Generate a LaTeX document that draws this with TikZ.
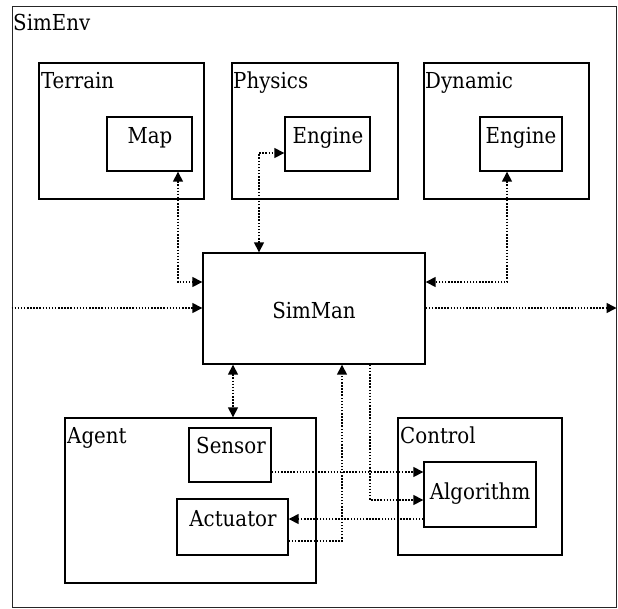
\documentclass[tikz,border=0pt]{standalone}
\usepackage{fontspec}
\setmainfont{DejaVu Serif Condensed}
\usetikzlibrary{arrows.meta,fit}
\begin{document}
\begin{tikzpicture}[x=1pt,y=-1pt,
  box/.style={draw=black,line width=1.4pt,inner sep=0pt},
  outerbox/.style={draw=black!85,line width=1pt,inner sep=0pt},
  txt/.style={inner sep=0pt,font=\fontsize{22}{26}\selectfont},
  conn/.style={line width=1.5pt,dash pattern=on 1.5pt off 1.6pt,
    >={Triangle[length=10pt,width=10pt]}}
]
\useasboundingbox (0,0) rectangle (618,608);
% boxes
\node[outerbox,fit={(12,6) (616,607)}] (SimEnv) {};
\node[box,fit={(39,63) (204,199)}] (Terrain) {};
\node[box,fit={(107,117) (192,171)}] (Map) {};
\node[box,fit={(232,63) (398,199)}] (Physics) {};
\node[box,fit={(285,117) (370,171)}] (PEng) {};
\node[box,fit={(424,63) (589,199)}] (Dynamic) {};
\node[box,fit={(480,117) (562,171)}] (DEng) {};
\node[box,fit={(203,253) (425,364)}] (SimMan) {};
\node[box,fit={(65,418) (316,583)}] (Agent) {};
\node[box,fit={(189,428) (271,482)}] (Sensor) {};
\node[box,fit={(177,499) (288,555)}] (Actuator) {};
\node[box,fit={(398,418) (562,555)}] (Control) {};
\node[box,fit={(424,462) (536,527)}] (Algorithm) {};
% labels
\node[txt,anchor=base west] (tSimEnv) at (13,30) {SimEnv};
\node[txt,anchor=base west] (tTerrain) at (41,88) {Terrain};
\node[txt,anchor=base west] (tPhysics) at (233,88) {Physics};
\node[txt,anchor=base west] (tDynamic) at (425,88) {Dynamic};
\node[txt,anchor=base west] (tAgent) at (67,443) {Agent};
\node[txt,anchor=base west] (tControl) at (400,443) {Control};
\node[txt,anchor=base] (tMap) at (150,143) {Map};
\node[txt,anchor=base] (tPEng) at (328,143) {Engine};
\node[txt,anchor=base] (tDEng) at (521,143) {Engine};
\node[txt,anchor=base] (tSimMan) at (314,318) {SimMan};
\node[txt,anchor=base] (tSensor) at (231,453) {Sensor};
\node[txt,anchor=base] (tActuator) at (233,526) {Actuator};
\node[txt,anchor=base] (tAlgorithm) at (480,499) {Algorithm};
% connector bends
\coordinate (c1) at (178,282);
\coordinate (c2) at (259,153);
\coordinate (c3) at (507,282);
\coordinate (c4) at (12,308);
\coordinate (c6) at (233,400);
\coordinate (c7) at (300,472);
\coordinate (c8) at (370,500);
\coordinate (c9) at (300,519);
\coordinate (c10) at (342,541);
% connectors
\draw[conn,<->] (Map.south -| c1) -- (c1) -- (SimMan.west |- c1);
\draw[conn,<->] (SimMan.north -| c2) -- (c2) -- (PEng.west |- c2);
\draw[conn,<->] (DEng.south -| c3) -- (c3) -- (SimMan.east |- c3);
\draw[conn,->] (SimEnv.west |- c4) -- (SimMan.west |- c4);
\draw[conn,->] (SimMan.east |- c4) -- (SimEnv.east |- c4);
\draw[conn,<->] (SimMan.south -| c6) -- (Agent.north -| c6);
\draw[conn,->] (Sensor.east |- c7) -- (Algorithm.west |- c7);
\draw[conn,->] (SimMan.south -| c8) -- (c8) -- (Algorithm.west |- c8);
\draw[conn,->] (Algorithm.west |- c9) -- (Actuator.east |- c9);
\draw[conn,->] (Actuator.east |- c10) -- (c10) -- (SimMan.south -| c10);
\end{tikzpicture}
\end{document}
